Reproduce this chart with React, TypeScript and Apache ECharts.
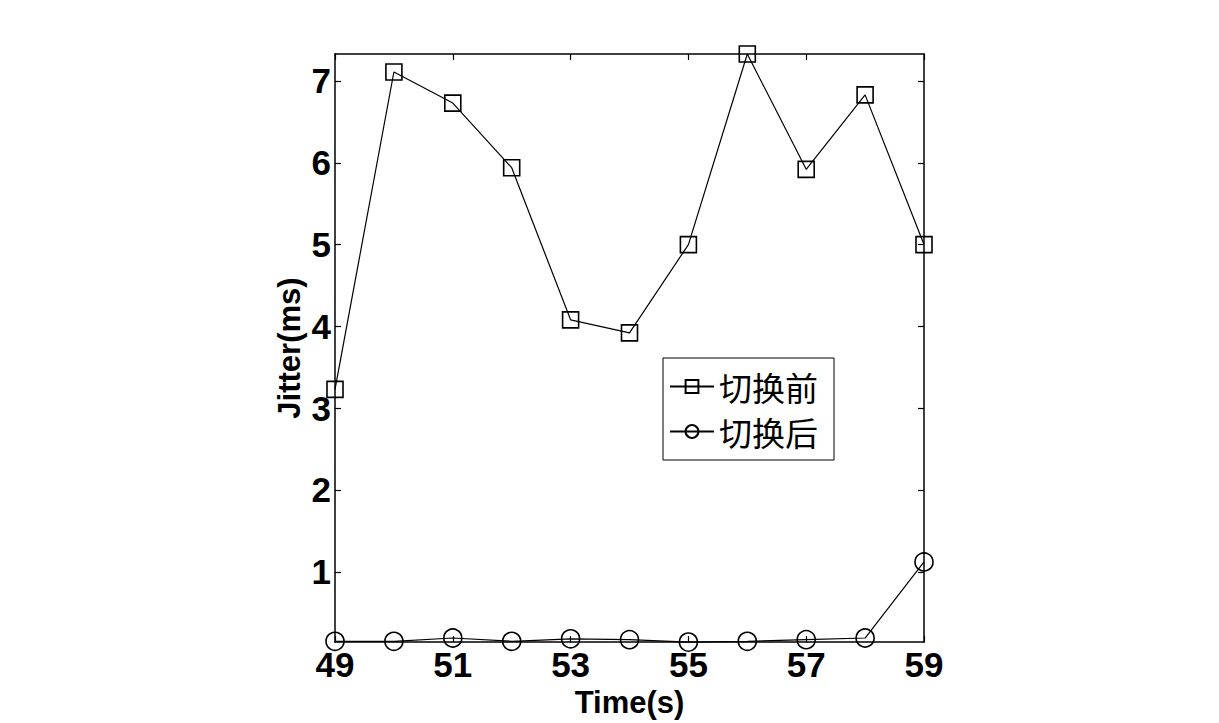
import React, { useEffect, useRef } from "react";
import * as echarts from "echarts";

const times = [49, 50, 51, 52, 53, 54, 55, 56, 57, 58, 59];
const before = [3.23, 7.11, 6.73, 5.94, 4.08, 3.92, 5.0, 7.33, 5.92, 6.83, 5.0];
const after = [0.15, 0.15, 0.19, 0.15, 0.18, 0.17, 0.14, 0.15, 0.17, 0.19, 1.12];
const yTicks = [1, 2, 3, 4, 5, 6, 7];
const seriesNames = ["切换前", "切换后"];

const LATIN = "'Liberation Sans', Arial, sans-serif";
const CJK = "'Noto Sans CJK SC', sans-serif";

export default function App() {
  const ref = useRef<HTMLDivElement>(null);
  useEffect(() => {
    if (!ref.current) return;
    const chart = echarts.init(ref.current, undefined, { renderer: "svg" });
    const axisLine = { show: true, lineStyle: { color: "#000", width: 1.5 } };
    const tick = { show: true, inside: true, length: 6, lineStyle: { color: "#000", width: 1.2 } };
    const xCommon = { type: "value", min: 49, max: 59, interval: 2, splitLine: { show: false }, axisLine };
    const yCommon = { type: "value", min: 0.14, max: 7.33, splitLine: { show: false }, axisLine };
    chart.setOption({
      animation: false,
      backgroundColor: "#fff",
      grid: { left: 335, right: 295, top: 54, bottom: 80, containLabel: false },
      xAxis: [
        {
          ...xCommon,
          position: "bottom",
          axisTick: tick,
          axisLabel: { margin: 5, color: "#000", fontSize: 35, fontWeight: "bold", fontFamily: LATIN },
          name: "Time(s)",
          nameLocation: "middle",
          nameGap: 44,
          nameTextStyle: { color: "#000", fontSize: 31, fontWeight: "bold", fontFamily: LATIN },
        },
        { ...xCommon, position: "top", axisTick: tick, axisLabel: { show: false } },
      ],
      yAxis: [
        {
          ...yCommon,
          position: "left",
          axisTick: { ...tick, customValues: yTicks },
          axisLabel: { customValues: yTicks, margin: 4, color: "#000", fontSize: 35, fontWeight: "bold", fontFamily: LATIN },
          name: "Jitter(ms)",
          nameLocation: "middle",
          nameGap: 30,
          nameTextStyle: { color: "#000", fontSize: 31, fontWeight: "bold", fontFamily: LATIN },
        },
        { ...yCommon, position: "right", axisTick: { ...tick, customValues: yTicks }, axisLabel: { show: false } },
      ],
      legend: {
        show: true,
        orient: "vertical",
        left: 663,
        top: 358,
        itemWidth: 44,
        itemHeight: 16,
        itemGap: 12,
        padding: [12, 16, 12, 6],
        borderColor: "#000",
        borderWidth: 1,
        backgroundColor: "#fff",
        data: seriesNames,
        textStyle: { color: "#000", fontSize: 33, lineHeight: 32, fontFamily: CJK, padding: [0, 0, 0, 0] },
      },
      series: [
        {
          name: seriesNames[0],
          type: "line",
          data: times.map((t, i) => [t, before[i]]),
          symbol: "rect",
          symbolSize: 16,
          showAllSymbol: true,
          clip: false,
          lineStyle: { color: "#000", width: 1.2 },
          itemStyle: { color: "rgba(0,0,0,0)", borderColor: "#000", borderWidth: 1.6 },
        },
        {
          name: seriesNames[1],
          type: "line",
          data: times.map((t, i) => [t, after[i]]),
          symbol: "circle",
          symbolSize: 18,
          showAllSymbol: true,
          clip: false,
          lineStyle: { color: "#000", width: 1.2 },
          itemStyle: { color: "rgba(0,0,0,0)", borderColor: "#000", borderWidth: 1.6 },
        },
      ],
    });
    return () => chart.dispose();
  }, []);
  return (
    <div
      ref={ref}
      style={{ position: "fixed", left: 0, top: 0, width: 1219, height: 723, background: "#fff" }}
    />
  );
}
